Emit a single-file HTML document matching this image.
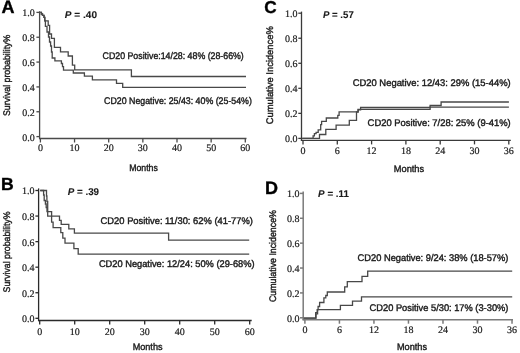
<!DOCTYPE html><html><head><meta charset="utf-8"><style>html,body{margin:0;padding:0;background:#fff;}svg{display:block;will-change:transform;}text{text-rendering:geometricPrecision;stroke:#1a1a1a;stroke-width:0.4px;paint-order:stroke;}text.s{stroke-width:0.2px;}</style></head><body>
<svg width="520" height="353" viewBox="0 0 520 353" shape-rendering="geometricPrecision">
<rect width="520" height="353" fill="#fff"/>
<line x1="39.60" y1="11.20" x2="39.60" y2="139.10" stroke="#4a4a4a" stroke-width="1.3"/>
<line x1="36.40" y1="136.60" x2="39.60" y2="136.60" stroke="#4a4a4a" stroke-width="1.3"/>
<text x="34.80" y="140.50" font-family='"Liberation Serif", serif' font-size="10" text-anchor="end" font-weight="normal" font-style="normal" fill="#1a1a1a" class="s">0.0</text>
<line x1="36.40" y1="111.76" x2="39.60" y2="111.76" stroke="#4a4a4a" stroke-width="1.3"/>
<text x="34.80" y="115.66" font-family='"Liberation Serif", serif' font-size="10" text-anchor="end" font-weight="normal" font-style="normal" fill="#1a1a1a" class="s">0.2</text>
<line x1="36.40" y1="86.92" x2="39.60" y2="86.92" stroke="#4a4a4a" stroke-width="1.3"/>
<text x="34.80" y="90.82" font-family='"Liberation Serif", serif' font-size="10" text-anchor="end" font-weight="normal" font-style="normal" fill="#1a1a1a" class="s">0.4</text>
<line x1="36.40" y1="62.08" x2="39.60" y2="62.08" stroke="#4a4a4a" stroke-width="1.3"/>
<text x="34.80" y="65.98" font-family='"Liberation Serif", serif' font-size="10" text-anchor="end" font-weight="normal" font-style="normal" fill="#1a1a1a" class="s">0.6</text>
<line x1="36.40" y1="37.24" x2="39.60" y2="37.24" stroke="#4a4a4a" stroke-width="1.3"/>
<text x="34.80" y="41.14" font-family='"Liberation Serif", serif' font-size="10" text-anchor="end" font-weight="normal" font-style="normal" fill="#1a1a1a" class="s">0.8</text>
<line x1="36.40" y1="12.40" x2="39.60" y2="12.40" stroke="#4a4a4a" stroke-width="1.3"/>
<text x="34.80" y="16.30" font-family='"Liberation Serif", serif' font-size="10" text-anchor="end" font-weight="normal" font-style="normal" fill="#1a1a1a" class="s">1.0</text>
<line x1="39.00" y1="138.50" x2="246.50" y2="138.50" stroke="#4a4a4a" stroke-width="1.3"/>
<line x1="40.40" y1="138.50" x2="40.40" y2="142.50" stroke="#4a4a4a" stroke-width="1.3"/>
<text x="40.40" y="151.00" font-family='"Liberation Serif", serif' font-size="10" text-anchor="middle" font-weight="normal" font-style="normal" fill="#1a1a1a" class="s">0</text>
<line x1="74.55" y1="138.50" x2="74.55" y2="142.50" stroke="#4a4a4a" stroke-width="1.3"/>
<text x="74.55" y="151.00" font-family='"Liberation Serif", serif' font-size="10" text-anchor="middle" font-weight="normal" font-style="normal" fill="#1a1a1a" class="s">10</text>
<line x1="108.70" y1="138.50" x2="108.70" y2="142.50" stroke="#4a4a4a" stroke-width="1.3"/>
<text x="108.70" y="151.00" font-family='"Liberation Serif", serif' font-size="10" text-anchor="middle" font-weight="normal" font-style="normal" fill="#1a1a1a" class="s">20</text>
<line x1="142.85" y1="138.50" x2="142.85" y2="142.50" stroke="#4a4a4a" stroke-width="1.3"/>
<text x="142.85" y="151.00" font-family='"Liberation Serif", serif' font-size="10" text-anchor="middle" font-weight="normal" font-style="normal" fill="#1a1a1a" class="s">30</text>
<line x1="177.00" y1="138.50" x2="177.00" y2="142.50" stroke="#4a4a4a" stroke-width="1.3"/>
<text x="177.00" y="151.00" font-family='"Liberation Serif", serif' font-size="10" text-anchor="middle" font-weight="normal" font-style="normal" fill="#1a1a1a" class="s">40</text>
<line x1="211.15" y1="138.50" x2="211.15" y2="142.50" stroke="#4a4a4a" stroke-width="1.3"/>
<text x="211.15" y="151.00" font-family='"Liberation Serif", serif' font-size="10" text-anchor="middle" font-weight="normal" font-style="normal" fill="#1a1a1a" class="s">50</text>
<line x1="245.30" y1="138.50" x2="245.30" y2="142.50" stroke="#4a4a4a" stroke-width="1.3"/>
<text x="245.30" y="151.00" font-family='"Liberation Serif", serif' font-size="10" text-anchor="middle" font-weight="normal" font-style="normal" fill="#1a1a1a" class="s">60</text>
<line x1="38.60" y1="188.40" x2="38.60" y2="321.10" stroke="#2a2a2a" stroke-width="1.3"/>
<line x1="35.40" y1="318.30" x2="38.60" y2="318.30" stroke="#2a2a2a" stroke-width="1.3"/>
<text x="34.60" y="322.20" font-family='"Liberation Serif", serif' font-size="10" text-anchor="end" font-weight="normal" font-style="normal" fill="#1a1a1a" class="s">0.0</text>
<line x1="35.40" y1="292.74" x2="38.60" y2="292.74" stroke="#2a2a2a" stroke-width="1.3"/>
<text x="34.60" y="296.64" font-family='"Liberation Serif", serif' font-size="10" text-anchor="end" font-weight="normal" font-style="normal" fill="#1a1a1a" class="s">0.2</text>
<line x1="35.40" y1="267.18" x2="38.60" y2="267.18" stroke="#2a2a2a" stroke-width="1.3"/>
<text x="34.60" y="271.08" font-family='"Liberation Serif", serif' font-size="10" text-anchor="end" font-weight="normal" font-style="normal" fill="#1a1a1a" class="s">0.4</text>
<line x1="35.40" y1="241.62" x2="38.60" y2="241.62" stroke="#2a2a2a" stroke-width="1.3"/>
<text x="34.60" y="245.52" font-family='"Liberation Serif", serif' font-size="10" text-anchor="end" font-weight="normal" font-style="normal" fill="#1a1a1a" class="s">0.6</text>
<line x1="35.40" y1="216.06" x2="38.60" y2="216.06" stroke="#2a2a2a" stroke-width="1.3"/>
<text x="34.60" y="219.96" font-family='"Liberation Serif", serif' font-size="10" text-anchor="end" font-weight="normal" font-style="normal" fill="#1a1a1a" class="s">0.8</text>
<line x1="35.40" y1="190.50" x2="38.60" y2="190.50" stroke="#2a2a2a" stroke-width="1.3"/>
<text x="34.60" y="194.40" font-family='"Liberation Serif", serif' font-size="10" text-anchor="end" font-weight="normal" font-style="normal" fill="#1a1a1a" class="s">1.0</text>
<line x1="38.00" y1="320.50" x2="251.70" y2="320.50" stroke="#2a2a2a" stroke-width="1.3"/>
<line x1="39.70" y1="320.50" x2="39.70" y2="324.50" stroke="#2a2a2a" stroke-width="1.3"/>
<text x="39.70" y="334.70" font-family='"Liberation Serif", serif' font-size="10" text-anchor="middle" font-weight="normal" font-style="normal" fill="#1a1a1a" class="s">0</text>
<line x1="74.70" y1="320.50" x2="74.70" y2="324.50" stroke="#2a2a2a" stroke-width="1.3"/>
<text x="74.70" y="334.70" font-family='"Liberation Serif", serif' font-size="10" text-anchor="middle" font-weight="normal" font-style="normal" fill="#1a1a1a" class="s">10</text>
<line x1="109.70" y1="320.50" x2="109.70" y2="324.50" stroke="#2a2a2a" stroke-width="1.3"/>
<text x="109.70" y="334.70" font-family='"Liberation Serif", serif' font-size="10" text-anchor="middle" font-weight="normal" font-style="normal" fill="#1a1a1a" class="s">20</text>
<line x1="144.70" y1="320.50" x2="144.70" y2="324.50" stroke="#2a2a2a" stroke-width="1.3"/>
<text x="144.70" y="334.70" font-family='"Liberation Serif", serif' font-size="10" text-anchor="middle" font-weight="normal" font-style="normal" fill="#1a1a1a" class="s">30</text>
<line x1="179.70" y1="320.50" x2="179.70" y2="324.50" stroke="#2a2a2a" stroke-width="1.3"/>
<text x="179.70" y="334.70" font-family='"Liberation Serif", serif' font-size="10" text-anchor="middle" font-weight="normal" font-style="normal" fill="#1a1a1a" class="s">40</text>
<line x1="214.70" y1="320.50" x2="214.70" y2="324.50" stroke="#2a2a2a" stroke-width="1.3"/>
<text x="214.70" y="334.70" font-family='"Liberation Serif", serif' font-size="10" text-anchor="middle" font-weight="normal" font-style="normal" fill="#1a1a1a" class="s">50</text>
<line x1="249.70" y1="320.50" x2="249.70" y2="324.50" stroke="#2a2a2a" stroke-width="1.3"/>
<text x="249.70" y="334.70" font-family='"Liberation Serif", serif' font-size="10" text-anchor="middle" font-weight="normal" font-style="normal" fill="#1a1a1a" class="s">60</text>
<line x1="301.50" y1="11.60" x2="301.50" y2="141.00" stroke="#3a3a3a" stroke-width="1.3"/>
<line x1="298.30" y1="138.40" x2="301.50" y2="138.40" stroke="#3a3a3a" stroke-width="1.3"/>
<text x="297.40" y="142.30" font-family='"Liberation Serif", serif' font-size="10" text-anchor="end" font-weight="normal" font-style="normal" fill="#1a1a1a" class="s">0.0</text>
<line x1="298.30" y1="113.36" x2="301.50" y2="113.36" stroke="#3a3a3a" stroke-width="1.3"/>
<text x="297.40" y="117.26" font-family='"Liberation Serif", serif' font-size="10" text-anchor="end" font-weight="normal" font-style="normal" fill="#1a1a1a" class="s">0.2</text>
<line x1="298.30" y1="88.32" x2="301.50" y2="88.32" stroke="#3a3a3a" stroke-width="1.3"/>
<text x="297.40" y="92.22" font-family='"Liberation Serif", serif' font-size="10" text-anchor="end" font-weight="normal" font-style="normal" fill="#1a1a1a" class="s">0.4</text>
<line x1="298.30" y1="63.28" x2="301.50" y2="63.28" stroke="#3a3a3a" stroke-width="1.3"/>
<text x="297.40" y="67.18" font-family='"Liberation Serif", serif' font-size="10" text-anchor="end" font-weight="normal" font-style="normal" fill="#1a1a1a" class="s">0.6</text>
<line x1="298.30" y1="38.24" x2="301.50" y2="38.24" stroke="#3a3a3a" stroke-width="1.3"/>
<text x="297.40" y="42.14" font-family='"Liberation Serif", serif' font-size="10" text-anchor="end" font-weight="normal" font-style="normal" fill="#1a1a1a" class="s">0.8</text>
<line x1="298.30" y1="13.20" x2="301.50" y2="13.20" stroke="#3a3a3a" stroke-width="1.3"/>
<text x="297.40" y="17.10" font-family='"Liberation Serif", serif' font-size="10" text-anchor="end" font-weight="normal" font-style="normal" fill="#1a1a1a" class="s">1.0</text>
<line x1="300.90" y1="140.40" x2="510.80" y2="140.40" stroke="#3a3a3a" stroke-width="1.3"/>
<line x1="303.00" y1="140.40" x2="303.00" y2="144.40" stroke="#3a3a3a" stroke-width="1.3"/>
<text x="303.00" y="153.80" font-family='"Liberation Serif", serif' font-size="10" text-anchor="middle" font-weight="normal" font-style="normal" fill="#1a1a1a" class="s">0</text>
<line x1="337.30" y1="140.40" x2="337.30" y2="144.40" stroke="#3a3a3a" stroke-width="1.3"/>
<text x="337.30" y="153.80" font-family='"Liberation Serif", serif' font-size="10" text-anchor="middle" font-weight="normal" font-style="normal" fill="#1a1a1a" class="s">6</text>
<line x1="371.60" y1="140.40" x2="371.60" y2="144.40" stroke="#3a3a3a" stroke-width="1.3"/>
<text x="371.60" y="153.80" font-family='"Liberation Serif", serif' font-size="10" text-anchor="middle" font-weight="normal" font-style="normal" fill="#1a1a1a" class="s">12</text>
<line x1="405.90" y1="140.40" x2="405.90" y2="144.40" stroke="#3a3a3a" stroke-width="1.3"/>
<text x="405.90" y="153.80" font-family='"Liberation Serif", serif' font-size="10" text-anchor="middle" font-weight="normal" font-style="normal" fill="#1a1a1a" class="s">18</text>
<line x1="440.20" y1="140.40" x2="440.20" y2="144.40" stroke="#3a3a3a" stroke-width="1.3"/>
<text x="440.20" y="153.80" font-family='"Liberation Serif", serif' font-size="10" text-anchor="middle" font-weight="normal" font-style="normal" fill="#1a1a1a" class="s">24</text>
<line x1="474.50" y1="140.40" x2="474.50" y2="144.40" stroke="#3a3a3a" stroke-width="1.3"/>
<text x="474.50" y="153.80" font-family='"Liberation Serif", serif' font-size="10" text-anchor="middle" font-weight="normal" font-style="normal" fill="#1a1a1a" class="s">30</text>
<line x1="508.80" y1="140.40" x2="508.80" y2="144.40" stroke="#3a3a3a" stroke-width="1.3"/>
<text x="508.80" y="153.80" font-family='"Liberation Serif", serif' font-size="10" text-anchor="middle" font-weight="normal" font-style="normal" fill="#1a1a1a" class="s">36</text>
<line x1="303.20" y1="191.60" x2="303.20" y2="320.30" stroke="#7a7a7a" stroke-width="1.5"/>
<line x1="300.00" y1="317.80" x2="303.20" y2="317.80" stroke="#7a7a7a" stroke-width="1.5"/>
<text x="299.60" y="321.70" font-family='"Liberation Serif", serif' font-size="10" text-anchor="end" font-weight="normal" font-style="normal" fill="#1a1a1a" class="s">0.0</text>
<line x1="300.00" y1="292.92" x2="303.20" y2="292.92" stroke="#7a7a7a" stroke-width="1.5"/>
<text x="299.60" y="296.82" font-family='"Liberation Serif", serif' font-size="10" text-anchor="end" font-weight="normal" font-style="normal" fill="#1a1a1a" class="s">0.2</text>
<line x1="300.00" y1="268.04" x2="303.20" y2="268.04" stroke="#7a7a7a" stroke-width="1.5"/>
<text x="299.60" y="271.94" font-family='"Liberation Serif", serif' font-size="10" text-anchor="end" font-weight="normal" font-style="normal" fill="#1a1a1a" class="s">0.4</text>
<line x1="300.00" y1="243.16" x2="303.20" y2="243.16" stroke="#7a7a7a" stroke-width="1.5"/>
<text x="299.60" y="247.06" font-family='"Liberation Serif", serif' font-size="10" text-anchor="end" font-weight="normal" font-style="normal" fill="#1a1a1a" class="s">0.6</text>
<line x1="300.00" y1="218.28" x2="303.20" y2="218.28" stroke="#7a7a7a" stroke-width="1.5"/>
<text x="299.60" y="222.18" font-family='"Liberation Serif", serif' font-size="10" text-anchor="end" font-weight="normal" font-style="normal" fill="#1a1a1a" class="s">0.8</text>
<line x1="300.00" y1="193.40" x2="303.20" y2="193.40" stroke="#7a7a7a" stroke-width="1.5"/>
<text x="299.60" y="197.30" font-family='"Liberation Serif", serif' font-size="10" text-anchor="end" font-weight="normal" font-style="normal" fill="#1a1a1a" class="s">1.0</text>
<line x1="302.60" y1="319.70" x2="513.00" y2="319.70" stroke="#7a7a7a" stroke-width="1.5"/>
<line x1="304.90" y1="319.70" x2="304.90" y2="323.70" stroke="#7a7a7a" stroke-width="1.5"/>
<text x="304.90" y="333.20" font-family='"Liberation Serif", serif' font-size="10" text-anchor="middle" font-weight="normal" font-style="normal" fill="#1a1a1a" class="s">0</text>
<line x1="339.42" y1="319.70" x2="339.42" y2="323.70" stroke="#7a7a7a" stroke-width="1.5"/>
<text x="339.42" y="333.20" font-family='"Liberation Serif", serif' font-size="10" text-anchor="middle" font-weight="normal" font-style="normal" fill="#1a1a1a" class="s">6</text>
<line x1="373.94" y1="319.70" x2="373.94" y2="323.70" stroke="#7a7a7a" stroke-width="1.5"/>
<text x="373.94" y="333.20" font-family='"Liberation Serif", serif' font-size="10" text-anchor="middle" font-weight="normal" font-style="normal" fill="#1a1a1a" class="s">12</text>
<line x1="408.46" y1="319.70" x2="408.46" y2="323.70" stroke="#7a7a7a" stroke-width="1.5"/>
<text x="408.46" y="333.20" font-family='"Liberation Serif", serif' font-size="10" text-anchor="middle" font-weight="normal" font-style="normal" fill="#1a1a1a" class="s">18</text>
<line x1="442.98" y1="319.70" x2="442.98" y2="323.70" stroke="#7a7a7a" stroke-width="1.5"/>
<text x="442.98" y="333.20" font-family='"Liberation Serif", serif' font-size="10" text-anchor="middle" font-weight="normal" font-style="normal" fill="#1a1a1a" class="s">24</text>
<line x1="477.50" y1="319.70" x2="477.50" y2="323.70" stroke="#7a7a7a" stroke-width="1.5"/>
<text x="477.50" y="333.20" font-family='"Liberation Serif", serif' font-size="10" text-anchor="middle" font-weight="normal" font-style="normal" fill="#1a1a1a" class="s">30</text>
<line x1="512.02" y1="319.70" x2="512.02" y2="323.70" stroke="#7a7a7a" stroke-width="1.5"/>
<text x="512.02" y="333.20" font-family='"Liberation Serif", serif' font-size="10" text-anchor="middle" font-weight="normal" font-style="normal" fill="#1a1a1a" class="s">36</text>
<text x="1.40" y="12.60" font-family='"Liberation Sans", sans-serif' font-size="18.0" text-anchor="start" font-weight="bold" font-style="normal" fill="#000">A</text>
<text x="1.10" y="190.40" font-family='"Liberation Sans", sans-serif' font-size="17.6" text-anchor="start" font-weight="bold" font-style="normal" fill="#000">B</text>
<text x="264.30" y="13.40" font-family='"Liberation Sans", sans-serif' font-size="17.2" text-anchor="start" font-weight="bold" font-style="normal" fill="#000">C</text>
<text x="265.00" y="193.70" font-family='"Liberation Sans", sans-serif' font-size="18.0" text-anchor="start" font-weight="bold" font-style="normal" fill="#000">D</text>
<text x="64.80" y="18.10" font-family='"Liberation Sans", sans-serif' font-size="9.8" font-weight="bold" fill="#1a1a1a" style="stroke-width:0.1px" textLength="32.20" lengthAdjust="spacingAndGlyphs"><tspan font-style="italic">P</tspan> = .40</text>
<text x="67.70" y="195.00" font-family='"Liberation Sans", sans-serif' font-size="9.8" font-weight="bold" fill="#1a1a1a" style="stroke-width:0.1px" textLength="31.40" lengthAdjust="spacingAndGlyphs"><tspan font-style="italic">P</tspan> = .39</text>
<text x="322.90" y="18.00" font-family='"Liberation Sans", sans-serif' font-size="9.8" font-weight="bold" fill="#1a1a1a" style="stroke-width:0.1px" textLength="30.90" lengthAdjust="spacingAndGlyphs"><tspan font-style="italic">P</tspan> = .57</text>
<text x="318.10" y="197.40" font-family='"Liberation Sans", sans-serif' font-size="9.8" font-weight="bold" fill="#1a1a1a" style="stroke-width:0.1px" textLength="30.90" lengthAdjust="spacingAndGlyphs"><tspan font-style="italic">P</tspan> = .11</text>
<text x="129.20" y="170.60" font-family='"Liberation Sans", sans-serif' font-size="9.6" text-anchor="start" font-weight="normal" font-style="normal" fill="#1a1a1a" textLength="28.60" lengthAdjust="spacingAndGlyphs">Months</text>
<text x="132.70" y="349.60" font-family='"Liberation Sans", sans-serif' font-size="9.6" text-anchor="start" font-weight="normal" font-style="normal" fill="#1a1a1a" textLength="29.80" lengthAdjust="spacingAndGlyphs">Months</text>
<text x="393.80" y="171.70" font-family='"Liberation Sans", sans-serif' font-size="9.6" text-anchor="start" font-weight="normal" font-style="normal" fill="#1a1a1a" textLength="30.30" lengthAdjust="spacingAndGlyphs">Months</text>
<text x="397.00" y="350.00" font-family='"Liberation Sans", sans-serif' font-size="9.6" text-anchor="start" font-weight="normal" font-style="normal" fill="#1a1a1a" textLength="30.00" lengthAdjust="spacingAndGlyphs">Months</text>
<text transform="translate(10.00,116.00) rotate(-90)" font-family='"Liberation Sans", sans-serif' font-size="9.6" fill="#1a1a1a" textLength="81.30" lengthAdjust="spacingAndGlyphs">Survival probability%</text>
<text transform="translate(10.30,292.40) rotate(-90)" font-family='"Liberation Sans", sans-serif' font-size="9.6" fill="#1a1a1a" textLength="81.00" lengthAdjust="spacingAndGlyphs">Survival probability%</text>
<text transform="translate(272.90,124.20) rotate(-90)" font-family='"Liberation Sans", sans-serif' font-size="9.6" fill="#1a1a1a" textLength="98.00" lengthAdjust="spacingAndGlyphs">Cumulative Incidence%</text>
<text transform="translate(275.70,302.10) rotate(-90)" font-family='"Liberation Sans", sans-serif' font-size="9.6" fill="#1a1a1a" textLength="92.00" lengthAdjust="spacingAndGlyphs">Cumulative Incidence%</text>
<text x="102.60" y="59.00" font-family='"Liberation Sans", sans-serif' font-size="9.6" text-anchor="start" font-weight="normal" font-style="normal" fill="#1a1a1a" textLength="141.20" lengthAdjust="spacingAndGlyphs">CD20 Positive:14/28: 48% (28-66%)</text>
<text x="104.10" y="103.60" font-family='"Liberation Sans", sans-serif' font-size="9.6" text-anchor="start" font-weight="normal" font-style="normal" fill="#1a1a1a" textLength="147.80" lengthAdjust="spacingAndGlyphs">CD20 Negative: 25/43: 40% (25-54%)</text>
<text x="100.60" y="223.70" font-family='"Liberation Sans", sans-serif' font-size="9.6" text-anchor="start" font-weight="normal" font-style="normal" fill="#1a1a1a" textLength="152.30" lengthAdjust="spacingAndGlyphs">CD20 Positive: 11/30: 62% (41-77%)</text>
<text x="98.90" y="267.20" font-family='"Liberation Sans", sans-serif' font-size="9.6" text-anchor="start" font-weight="normal" font-style="normal" fill="#1a1a1a" textLength="155.70" lengthAdjust="spacingAndGlyphs">CD20 Negative: 12/24: 50% (29-68%)</text>
<text x="352.70" y="86.30" font-family='"Liberation Sans", sans-serif' font-size="9.6" text-anchor="start" font-weight="normal" font-style="normal" fill="#1a1a1a" textLength="158.00" lengthAdjust="spacingAndGlyphs">CD20 Negative: 12/43: 29% (15-44%)</text>
<text x="367.60" y="126.30" font-family='"Liberation Sans", sans-serif' font-size="9.6" text-anchor="start" font-weight="normal" font-style="normal" fill="#1a1a1a" textLength="143.10" lengthAdjust="spacingAndGlyphs">CD20 Positive: 7/28: 25% (9-41%)</text>
<text x="357.60" y="260.90" font-family='"Liberation Sans", sans-serif' font-size="9.6" text-anchor="start" font-weight="normal" font-style="normal" fill="#1a1a1a" textLength="150.80" lengthAdjust="spacingAndGlyphs">CD20 Negative: 9/24: 38% (18-57%)</text>
<text x="369.60" y="310.50" font-family='"Liberation Sans", sans-serif' font-size="9.6" text-anchor="start" font-weight="normal" font-style="normal" fill="#1a1a1a" textLength="138.80" lengthAdjust="spacingAndGlyphs">CD20 Positive 5/30: 17% (3-30%)</text>
<path d="M40.30,12.40 L41.40,12.40 L41.40,14.00 L42.50,14.00 L42.50,15.40 L44.00,15.40 L44.00,17.40 L44.80,17.40 L44.80,20.80 L48.20,20.80 L48.20,25.30 L49.60,25.30 L49.60,34.00 L51.50,34.00 L51.50,38.40 L54.40,38.40 L54.40,47.30 L60.50,47.30 L60.50,51.80 L68.20,51.80 L68.20,56.00 L72.40,56.00 L72.40,65.10 L74.70,65.10 L74.70,69.80 L131.40,69.80 L131.40,76.50 L246.00,76.50" fill="none" stroke="#484848" stroke-width="1.3" stroke-linejoin="miter" stroke-linecap="butt"/>
<path d="M40.30,12.40 L41.40,12.40 L41.40,14.00 L42.50,14.00 L42.50,15.40 L44.00,15.40 L44.00,17.40 L44.80,17.40 L44.80,20.80 L45.40,20.80 L45.40,26.40 L47.00,26.40 L47.00,32.00 L48.50,32.00 L48.50,37.00 L49.50,37.00 L49.50,42.00 L50.60,42.00 L50.60,46.00 L51.50,46.00 L51.50,52.00 L52.20,52.00 L52.20,58.00 L54.90,58.00 L54.90,60.90 L61.40,60.90 L61.40,63.50 L62.50,63.50 L62.50,66.70 L63.50,66.70 L63.50,70.20 L73.30,70.20 L73.30,73.00 L84.40,73.00 L84.40,76.10 L92.40,76.10 L92.40,79.90 L116.50,79.90 L116.50,83.40 L122.70,83.40 L122.70,87.30 L246.00,87.30" fill="none" stroke="#484848" stroke-width="1.3" stroke-linejoin="miter" stroke-linecap="butt"/>
<path d="M40.20,190.50 L46.50,190.50 L46.50,196.00 L46.90,196.00 L46.90,201.50 L47.70,201.50 L47.70,216.20 L59.50,216.20 L59.50,220.40 L61.20,220.40 L61.20,224.40 L68.80,224.40 L68.80,228.80 L74.40,228.80 L74.40,233.20 L168.60,233.20 L168.60,240.10 L249.20,240.10" fill="none" stroke="#484848" stroke-width="1.3" stroke-linejoin="miter" stroke-linecap="butt"/>
<path d="M40.20,190.50 L43.60,190.50 L43.60,195.00 L44.20,195.00 L44.20,200.50 L45.40,200.50 L45.40,204.00 L46.20,204.00 L46.20,207.50 L47.00,207.50 L47.00,211.60 L51.60,211.60 L51.60,222.10 L53.10,222.10 L53.10,227.60 L60.80,227.60 L60.80,232.70 L62.80,232.70 L62.80,238.20 L65.00,238.20 L65.00,243.20 L73.90,243.20 L73.90,248.60 L78.20,248.60 L78.20,254.10 L249.20,254.10" fill="none" stroke="#484848" stroke-width="1.3" stroke-linejoin="miter" stroke-linecap="butt"/>
<path d="M302.20,138.40 L313.10,138.40 L313.10,135.80 L314.40,135.80 L314.40,133.70 L316.10,133.70 L316.10,132.40 L318.20,132.40 L318.20,129.80 L320.70,129.80 L320.70,124.70 L321.60,124.70 L321.60,121.30 L326.30,121.30 L326.30,118.00 L337.80,118.00 L337.80,115.30 L339.10,115.30 L339.10,111.90 L358.20,111.90 L358.20,109.80 L360.60,109.80 L360.60,107.50 L430.10,107.50 L430.10,105.50 L441.10,105.50 L441.10,102.00 L508.90,102.00" fill="none" stroke="#484848" stroke-width="1.3" stroke-linejoin="miter" stroke-linecap="butt"/>
<path d="M302.20,138.40 L319.50,138.40 L319.50,134.50 L325.80,134.50 L325.80,129.40 L336.10,129.40 L336.10,125.10 L349.30,125.10 L349.30,120.40 L356.50,120.40 L356.50,112.00 L358.00,112.00 L358.00,109.30 L430.10,109.30 L430.10,107.20 L508.90,107.20" fill="none" stroke="#484848" stroke-width="1.3" stroke-linejoin="miter" stroke-linecap="butt"/>
<path d="M303.80,318.10 L315.70,318.10 L315.70,312.60 L317.20,312.60 L317.20,309.70 L318.10,309.70 L318.10,306.50 L319.60,306.50 L319.60,302.50 L323.90,302.50 L323.90,297.80 L325.80,297.80 L325.80,295.50 L327.30,295.50 L327.30,292.00 L344.70,292.00 L344.70,286.80 L347.30,286.80 L347.30,281.60 L362.00,281.60 L362.00,276.40 L367.70,276.40 L367.70,271.20 L512.20,271.20" fill="none" stroke="#484848" stroke-width="1.3" stroke-linejoin="miter" stroke-linecap="butt"/>
<path d="M303.80,318.10 L316.00,318.10 L316.00,313.80 L317.60,313.80 L317.60,309.60 L340.40,309.60 L340.40,305.30 L352.50,305.30 L352.50,301.20 L361.50,301.20 L361.50,296.90 L512.20,296.90" fill="none" stroke="#484848" stroke-width="1.3" stroke-linejoin="miter" stroke-linecap="butt"/>
</svg></body></html>
